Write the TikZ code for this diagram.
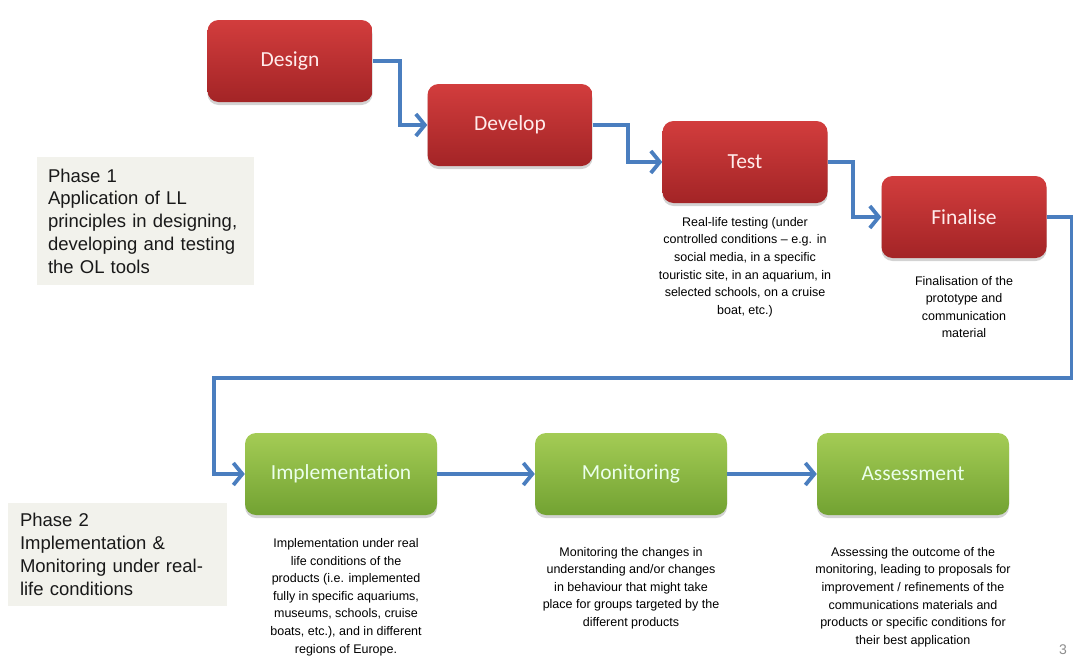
\documentclass[tikz,border=0pt]{standalone}
\usepackage{fontspec}
\setmainfont{Liberation Sans}
\newfontfamily\boxfont[Ligatures=NoCommon]{Carlito}
\usetikzlibrary{arrows.meta,shadows}

\definecolor{redtop}{HTML}{D23D3D}
\definecolor{redbot}{HTML}{A32426}
\definecolor{greentop}{HTML}{A4CC55}
\definecolor{greenbot}{HTML}{72A232}
\definecolor{flowblue}{HTML}{4A7EBF}
\definecolor{phasefill}{HTML}{F2F2EC}

\begin{document}
\begin{tikzpicture}[x=1pt,y=-1pt,
  stage/.style={rounded corners=11pt, minimum height=82pt, text=white!92!red,
    font=\boxfont\fontsize{21.5}{25}\selectfont,
    drop shadow={opacity=.35, shadow xshift=0pt, shadow yshift=-3pt}},
  redstage/.style={stage, minimum width=165pt, top color=redtop, bottom color=redbot},
  greenstage/.style={stage, minimum width=192pt, top color=greentop, bottom color=greenbot, text=white!92!green},
  note/.style={align=center, font=\fontsize{12.5}{17.6}\selectfont, text=black},
  phase/.style={fill=phasefill, align=left, inner xsep=11pt, text width=195pt,
    font=\fontsize{18.5}{22.8}\selectfont, text=black!90},
  flow/.style={draw=flowblue, line width=3.8pt, -{Straight Barb[length=9pt,width=22pt]}}]
\useasboundingbox (0,0) rectangle (1073,664);

% phase 1 boxes
\node[redstage] (design) at (290,61) {Design};
\node[redstage] (develop) at (510,125) {Develop};
\node[redstage] (test) at (745,162) {Test};
\node[redstage] (final) at (964,217) {Finalise};

% phase 2 boxes
\node[greenstage] (impl) at (341,474) {Implementation};
\node[greenstage] (monit) at (631,474) {Monitoring};
\node[greenstage] (assess) at (913,474) {Assessment};

\node[phase, minimum width=217pt, minimum height=128pt] (phaseA) at (145.5,221) {Phase 1\\Application of LL\\principles in designing,\\developing and testing\\the OL tools};
\node[phase, minimum width=219pt, minimum height=103pt] (phaseB) at (117.5,554.5) {Phase 2\\Implementation \&\\Monitoring under real-\\life conditions};

\node[note] (testnote) at (745,267) {Real-life testing (under\\controlled conditions -- e.g. in\\social media, in a specific\\touristic site, in an aquarium, in\\selected schools, on a cruise\\boat, etc.)};
\node[note] (finalnote) at (964,307) {Finalisation of the\\prototype and\\communication\\material};
\node[note] (implnote) at (346,597) {Implementation under real\\life conditions of the\\products (i.e. implemented\\fully in specific aquariums,\\museums, schools, cruise\\boats, etc.), and in different\\regions of Europe.};
\node[note] (monitnote) at (631,588) {Monitoring the changes in\\understanding and/or changes\\in behaviour that might take\\place for groups targeted by the\\different products};
\node[note] (assessnote) at (913,597) {Assessing the outcome of the\\monitoring, leading to proposals for\\improvement / refinements of the\\communications materials and\\products or specific conditions for\\their best application};

\node[text=black!45, font=\fontsize{14}{16}\selectfont] (pagenum) at (1063,650) {3};

% connectors
\coordinate (turn) at (214,378);
\draw[flow] (design.east) -- ++(27,0) |- (develop.west);
\draw[flow] (develop.east) -- ++(35,0) |- (test.west);
\draw[flow] (test.east) -- ++(25,0) |- (final.west);
\draw[flow] (final.east) -- ++(25,0) |- (turn) |- (impl.west);
\draw[flow] (impl) -- (monit);
\draw[flow] (monit) -- (assess);

\end{tikzpicture}
\end{document}
